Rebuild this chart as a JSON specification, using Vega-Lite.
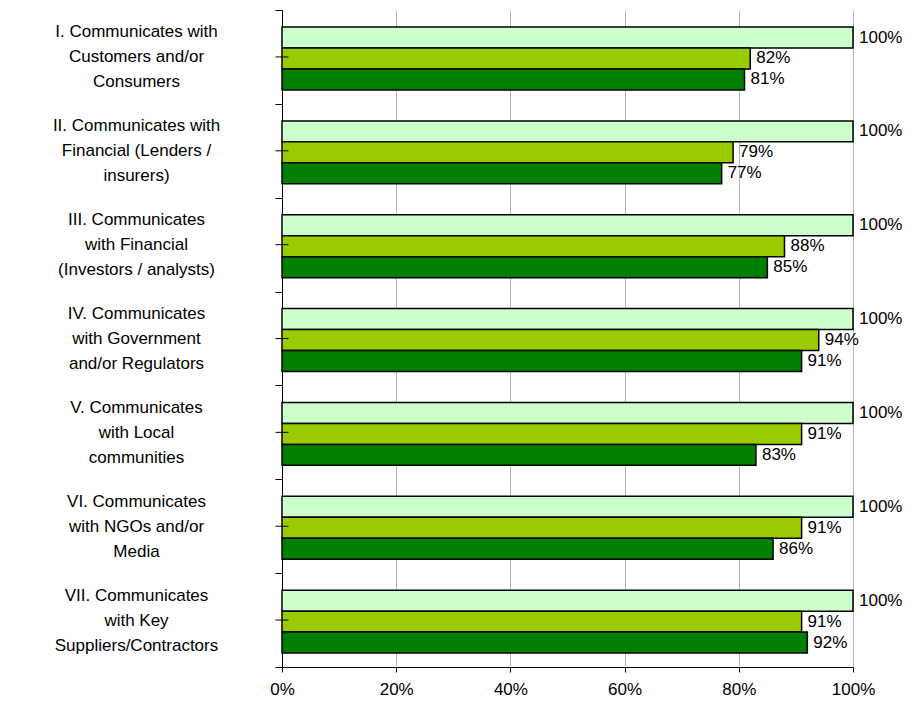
{
  "$schema": "https://vega.github.io/schema/vega-lite/v6.json",
  "width": 571,
  "height": 657,
  "autosize": "none",
  "padding": {"left": 282, "top": 10, "right": 66, "bottom": 35},
  "background": "white",
  "config": {"view": {"stroke": null}, "font": "Liberation Sans"},
  "data": {
    "values": [
      {"category": "I. Communicates with|Customers and/or|Consumers", "series": "s1", "value": 1.00},
      {"category": "I. Communicates with|Customers and/or|Consumers", "series": "s2", "value": 0.82},
      {"category": "I. Communicates with|Customers and/or|Consumers", "series": "s3", "value": 0.81},
      {"category": "II. Communicates with|Financial (Lenders /|insurers)", "series": "s1", "value": 1.00},
      {"category": "II. Communicates with|Financial (Lenders /|insurers)", "series": "s2", "value": 0.79},
      {"category": "II. Communicates with|Financial (Lenders /|insurers)", "series": "s3", "value": 0.77},
      {"category": "III. Communicates|with Financial|(Investors / analysts)", "series": "s1", "value": 1.00},
      {"category": "III. Communicates|with Financial|(Investors / analysts)", "series": "s2", "value": 0.88},
      {"category": "III. Communicates|with Financial|(Investors / analysts)", "series": "s3", "value": 0.85},
      {"category": "IV. Communicates|with Government|and/or Regulators", "series": "s1", "value": 1.00},
      {"category": "IV. Communicates|with Government|and/or Regulators", "series": "s2", "value": 0.94},
      {"category": "IV. Communicates|with Government|and/or Regulators", "series": "s3", "value": 0.91},
      {"category": "V. Communicates|with  Local|communities", "series": "s1", "value": 1.00},
      {"category": "V. Communicates|with  Local|communities", "series": "s2", "value": 0.91},
      {"category": "V. Communicates|with  Local|communities", "series": "s3", "value": 0.83},
      {"category": "VI. Communicates|with NGOs and/or|Media", "series": "s1", "value": 1.00},
      {"category": "VI. Communicates|with NGOs and/or|Media", "series": "s2", "value": 0.91},
      {"category": "VI. Communicates|with NGOs and/or|Media", "series": "s3", "value": 0.86},
      {"category": "VII. Communicates|with Key|Suppliers/Contractors", "series": "s1", "value": 1.00},
      {"category": "VII. Communicates|with Key|Suppliers/Contractors", "series": "s2", "value": 0.91},
      {"category": "VII. Communicates|with Key|Suppliers/Contractors", "series": "s3", "value": 0.92}
    ]
  },
  "encoding": {
    "y": {
      "field": "category",
      "type": "nominal",
      "sort": null,
      "scale": {"paddingInner": 0, "paddingOuter": 0},
      "axis": {
        "title": null,
        "grid": false,
        "domainColor": "black",
        "tickColor": "black",
        "tickSize": 7,
        "tickBand": "extent",
        "labelExpr": "split(datum.label, '|')",
        "labelAlign": "center",
        "labelBaseline": "middle",
        "labelOffset": -25,
        "labelPadding": 139,
        "labelLimit": 300,
        "labelFontSize": 17,
        "labelLineHeight": 25,
        "labelColor": "black"
      }
    },
    "x": {
      "field": "value",
      "type": "quantitative",
      "scale": {"domain": [0, 1], "nice": false},
      "axis": {
        "title": null,
        "format": ".0%",
        "values": [0, 0.2, 0.4, 0.6, 0.8, 1],
        "grid": true,
        "gridColor": "#b5b5b5",
        "domainColor": "black",
        "tickColor": "black",
        "tickSize": 5,
        "labelFlush": false,
        "labelPadding": 9,
        "labelFontSize": 17,
        "labelColor": "black"
      }
    }
  },
  "layer": [
    {
      "mark": {"type": "bar", "stroke": "black", "strokeWidth": 1.5},
      "encoding": {
        "yOffset": {"field": "series", "type": "nominal", "scale": {"paddingInner": 0, "paddingOuter": 0.738, "align": 0.55}},
        "color": {
          "field": "series",
          "type": "nominal",
          "scale": {"domain": ["s1", "s2", "s3"], "range": ["#CCFFCC", "#99CC00", "#008000"]},
          "legend": null
        }
      }
    },
    {
      "mark": {"type": "text", "align": "left", "baseline": "middle", "dx": 6, "fontSize": 17, "color": "black"},
      "encoding": {
        "yOffset": {"field": "series", "type": "nominal"},
        "text": {"field": "value", "type": "quantitative", "format": ".0%"}
      }
    },
    {
      "transform": [{"filter": "datum.series == 's1'"}],
      "mark": {"type": "tick", "orient": "horizontal", "size": 13, "thickness": 1, "color": "black", "opacity": 1, "clip": false},
      "encoding": {
        "x": {"datum": 0}
      }
    }
  ]
}
